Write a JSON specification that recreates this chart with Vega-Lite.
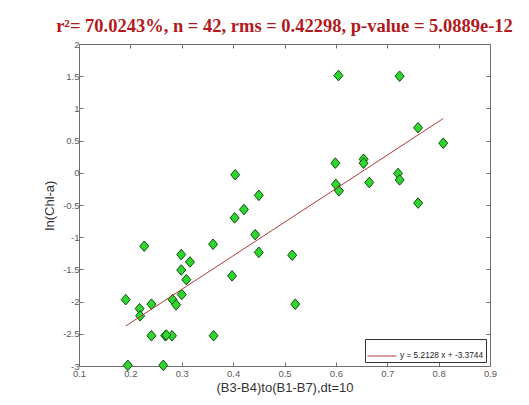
{
  "$schema": "https://vega.github.io/schema/vega-lite/v6.json",
  "width": 411,
  "height": 322,
  "autosize": {"type": "none"},
  "padding": {"left": 79, "top": 44, "right": 39, "bottom": 39},
  "background": "white",
  "title": {
    "text": "r²= 70.0243%, n = 42, rms = 0.42298, p-value = 5.0889e-12",
    "font": "Liberation Serif",
    "fontSize": 18.5,
    "fontWeight": "bold",
    "color": "#b3191c",
    "anchor": "middle",
    "baseline": "alphabetic",
    "offset": -11
  },
  "datasets": {
    "samples": [
      {"ratio": 0.404, "lnchl": -0.03},
      {"ratio": 0.450, "lnchl": -0.35},
      {"ratio": 0.421, "lnchl": -0.57},
      {"ratio": 0.403, "lnchl": -0.70},
      {"ratio": 0.443, "lnchl": -0.96},
      {"ratio": 0.605, "lnchl": 1.51},
      {"ratio": 0.724, "lnchl": 1.50},
      {"ratio": 0.760, "lnchl": 0.70},
      {"ratio": 0.809, "lnchl": 0.46},
      {"ratio": 0.599, "lnchl": 0.15},
      {"ratio": 0.654, "lnchl": 0.21},
      {"ratio": 0.654, "lnchl": 0.15},
      {"ratio": 0.600, "lnchl": -0.18},
      {"ratio": 0.606, "lnchl": -0.28},
      {"ratio": 0.665, "lnchl": -0.15},
      {"ratio": 0.721, "lnchl": -0.01},
      {"ratio": 0.724, "lnchl": -0.11},
      {"ratio": 0.760, "lnchl": -0.47},
      {"ratio": 0.227, "lnchl": -1.14},
      {"ratio": 0.361, "lnchl": -1.11},
      {"ratio": 0.450, "lnchl": -1.235},
      {"ratio": 0.299, "lnchl": -1.27},
      {"ratio": 0.316, "lnchl": -1.385},
      {"ratio": 0.299, "lnchl": -1.51},
      {"ratio": 0.309, "lnchl": -1.66},
      {"ratio": 0.398, "lnchl": -1.60},
      {"ratio": 0.515, "lnchl": -1.28},
      {"ratio": 0.191, "lnchl": -1.97},
      {"ratio": 0.218, "lnchl": -2.11},
      {"ratio": 0.219, "lnchl": -2.22},
      {"ratio": 0.241, "lnchl": -2.04},
      {"ratio": 0.282, "lnchl": -1.97},
      {"ratio": 0.289, "lnchl": -2.05},
      {"ratio": 0.300, "lnchl": -1.89},
      {"ratio": 0.241, "lnchl": -2.53},
      {"ratio": 0.268, "lnchl": -2.53},
      {"ratio": 0.281, "lnchl": -2.53},
      {"ratio": 0.362, "lnchl": -2.53},
      {"ratio": 0.195, "lnchl": -2.99},
      {"ratio": 0.264, "lnchl": -2.99},
      {"ratio": 0.521, "lnchl": -2.04},
      {"ratio": 0.270, "lnchl": -2.52}
    ],
    "fit": [
      {"ratio": 0.191, "lnchl": -2.3788, "eq": "y = 5.2128 x + -3.3744"},
      {"ratio": 0.809, "lnchl": 0.8428, "eq": "y = 5.2128 x + -3.3744"}
    ]
  },
  "layer": [
    {
      "data": {"name": "samples"},
      "mark": {
        "type": "point",
        "shape": "M0,-1L0.85,0L0,1L-0.85,0Z",
        "size": 112,
        "filled": true,
        "fill": "#2ed62e",
        "stroke": "#0d4d0d",
        "strokeWidth": 1,
        "opacity": 1
      },
      "encoding": {
        "x": {
          "field": "ratio",
          "type": "quantitative",
          "scale": {"domain": [0.1, 0.9], "nice": false, "zero": false},
          "axis": {
            "orient": "bottom",
            "values": [0.1, 0.2, 0.3, 0.4, 0.5, 0.6, 0.7, 0.8, 0.9],
            "labelExpr": "toString(datum.value)",
            "domain": false,
            "grid": false,
            "tickSize": -4,
            "tickColor": "#6e6e6e",
            "labelFont": "Liberation Sans",
            "labelFontSize": 9.5,
            "labelColor": "#5a5a5a",
            "labelPadding": 6,
            "labelFlush": false,
            "labelOverlap": false,
            "title": "(B3-B4)to(B1-B7),dt=10",
            "titleFont": "Liberation Sans",
            "titleFontSize": 13,
            "titleFontWeight": "normal",
            "titleColor": "#333333",
            "titlePadding": 4
          }
        },
        "y": {
          "field": "lnchl",
          "type": "quantitative",
          "scale": {"domain": [-3, 2], "nice": false, "zero": false},
          "axis": {
            "orient": "left",
            "values": [-3, -2.5, -2, -1.5, -1, -0.5, 0, 0.5, 1, 1.5, 2],
            "labelExpr": "toString(datum.value)",
            "domain": false,
            "grid": false,
            "tickSize": -4,
            "tickColor": "#6e6e6e",
            "labelFont": "Liberation Sans",
            "labelFontSize": 9.5,
            "labelColor": "#5a5a5a",
            "labelPadding": 4,
            "labelFlush": false,
            "labelOverlap": false,
            "title": "ln(Chl-a)",
            "titleFont": "Liberation Sans",
            "titleFontSize": 13,
            "titleFontWeight": "normal",
            "titleColor": "#333333",
            "titlePadding": 6
          }
        }
      }
    },
    {
      "data": {"name": "fit"},
      "mark": {"type": "line", "strokeWidth": 1},
      "encoding": {
        "x": {
          "field": "ratio",
          "type": "quantitative",
          "axis": {
            "orient": "top",
            "values": [0.2, 0.3, 0.4, 0.5, 0.6, 0.7, 0.8],
            "labels": false,
            "domain": false,
            "grid": false,
            "tickSize": -4,
            "tickColor": "#6e6e6e",
            "title": null
          }
        },
        "y": {
          "field": "lnchl",
          "type": "quantitative",
          "axis": {
            "orient": "right",
            "values": [-2.5, -2, -1.5, -1, -0.5, 0, 0.5, 1, 1.5],
            "labels": false,
            "domain": false,
            "grid": false,
            "tickSize": -4,
            "tickColor": "#6e6e6e",
            "title": null
          }
        },
        "color": {
          "field": "eq",
          "type": "nominal",
          "scale": {"range": ["#b03a3a"]},
          "legend": {
            "title": null,
            "orient": "bottom-right",
            "offset": 4,
            "symbolType": "stroke",
            "symbolSize": 841,
            "symbolStrokeWidth": 1,
            "labelFont": "Liberation Sans",
            "labelFontSize": 8.3,
            "labelColor": "#222222",
            "labelOffset": 3,
            "strokeColor": "#333333",
            "fillColor": "white",
            "padding": 2
          }
        }
      }
    }
  ],
  "resolve": {"axis": {"x": "independent", "y": "independent"}},
  "config": {
    "view": {"stroke": "#6e6e6e", "strokeWidth": 1}
  }
}
